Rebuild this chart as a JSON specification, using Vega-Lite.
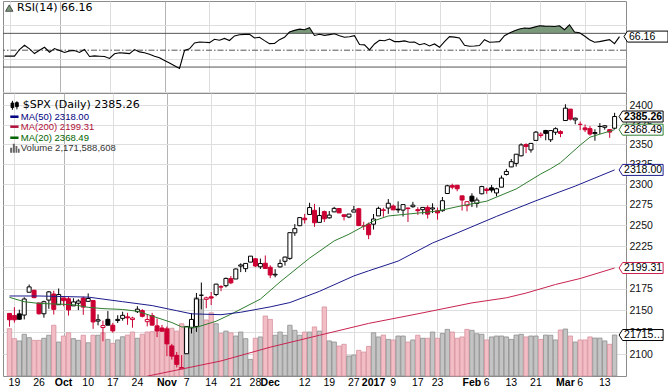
{
"$schema": "https://vega.github.io/schema/vega-lite/v6.json",
"padding": {"left": 1, "top": 0, "right": 0, "bottom": 0},
"spacing": 0,
"bounds": "flush",
"background": "white",
"config": {
  "view": {"stroke": "#8c8c8c"},
  "axis": {"labelFont": "Liberation Sans", "labelFontSize": 10.5, "labelColor": "#111111", "gridColor": "#dedede", "domain": false, "ticks": false, "labelOverlap": false, "labelFlush": false, "labelBound": false}
},
"datasets": {
"xl": [
{"i":1,"lab":"19","m":0},{"i":6,"lab":"26","m":0},{"i":11,"lab":"Oct","m":1},{"i":16,"lab":"10","m":0},{"i":21,"lab":"17","m":0},{"i":26,"lab":"24","m":0},{"i":32,"lab":"Nov","m":1},{"i":36,"lab":"7","m":0},{"i":41,"lab":"14","m":0},{"i":46,"lab":"21","m":0},{"i":50,"lab":"28","m":0},{"i":53,"lab":"Dec","m":1},{"i":60,"lab":"12","m":0},{"i":65,"lab":"19","m":0},{"i":70,"lab":"27","m":0},{"i":74,"lab":"2017","m":1},{"i":78,"lab":"9","m":0},{"i":83,"lab":"17","m":0},{"i":87,"lab":"23","m":0},{"i":94,"lab":"Feb","m":1},{"i":97,"lab":"6","m":0},{"i":102,"lab":"13","m":0},{"i":107,"lab":"21","m":0},{"i":113,"lab":"Mar","m":1},{"i":116,"lab":"6","m":0},{"i":121,"lab":"13","m":0}
],
"px": [
{"i":0,"o":2146.48,"h":2146.48,"l":2131.20,"c":2139.16,"v":2.51,"chg":"dn","rsi":43},
{"i":1,"o":2143.99,"h":2153.61,"l":2135.91,"c":2139.12,"v":1.98,"chg":"dn","rsi":43},
{"i":2,"o":2145.94,"h":2150.80,"l":2139.17,"c":2139.76,"v":1.86,"chg":"up","rsi":43},
{"i":3,"o":2144.58,"h":2165.11,"l":2139.57,"c":2163.12,"v":2.21,"chg":"up","rsi":50.8},
{"i":4,"o":2170.94,"h":2179.99,"l":2170.94,"c":2177.18,"v":2.03,"chg":"up","rsi":55.9},
{"i":5,"o":2173.29,"h":2173.75,"l":2163.97,"c":2164.69,"v":1.89,"chg":"dn","rsi":51.6},
{"i":6,"o":2158.54,"h":2158.54,"l":2145.04,"c":2146.10,"v":1.89,"chg":"dn","rsi":46},
{"i":7,"o":2146.04,"h":2161.13,"l":2141.55,"c":2159.93,"v":2.00,"chg":"up","rsi":50},
{"i":8,"o":2161.85,"h":2172.40,"l":2151.79,"c":2171.37,"v":2.16,"chg":"up","rsi":53.5},
{"i":9,"o":2168.90,"h":2172.67,"l":2145.20,"c":2151.13,"v":2.69,"chg":"dn","rsi":47.6},
{"i":10,"o":2156.51,"h":2175.30,"l":2156.51,"c":2168.27,"v":1.80,"chg":"up","rsi":52},
{"i":11,"o":2164.33,"h":2164.41,"l":2154.77,"c":2161.20,"v":2.12,"chg":"dn","rsi":49.6},
{"i":12,"o":2163.37,"h":2165.46,"l":2144.01,"c":2150.49,"v":2.29,"chg":"dn","rsi":47.3},
{"i":13,"o":2155.15,"h":2163.95,"l":2155.15,"c":2159.73,"v":1.98,"chg":"up","rsi":49.2},
{"i":14,"o":2158.22,"h":2162.93,"l":2150.28,"c":2160.77,"v":1.89,"chg":"up","rsi":49.6},
{"i":15,"o":2164.19,"h":2165.86,"l":2144.85,"c":2153.74,"v":2.16,"chg":"dn","rsi":47.3},
{"i":16,"o":2160.39,"h":2169.60,"l":2160.39,"c":2163.66,"v":1.76,"chg":"up","rsi":50.8},
{"i":17,"o":2161.35,"h":2161.56,"l":2128.84,"c":2136.73,"v":2.16,"chg":"dn","rsi":42.5},
{"i":18,"o":2137.67,"h":2145.36,"l":2132.77,"c":2139.18,"v":2.16,"chg":"up","rsi":43.3},
{"i":19,"o":2130.26,"h":2138.19,"l":2114.72,"c":2132.55,"v":2.29,"chg":"dn","rsi":42.9},
{"i":20,"o":2139.68,"h":2149.19,"l":2132.98,"c":2132.98,"v":1.94,"chg":"up","rsi":42.5},
{"i":21,"o":2132.95,"h":2135.61,"l":2124.43,"c":2126.50,"v":1.73,"chg":"dn","rsi":40.2},
{"i":22,"o":2138.31,"h":2144.38,"l":2135.49,"c":2139.60,"v":1.91,"chg":"up","rsi":45.7},
{"i":23,"o":2140.81,"h":2148.44,"l":2138.15,"c":2144.29,"v":2.08,"chg":"up","rsi":46.9},
{"i":24,"o":2142.51,"h":2147.18,"l":2133.44,"c":2141.34,"v":2.17,"chg":"dn","rsi":46.5},
{"i":25,"o":2139.43,"h":2142.63,"l":2130.09,"c":2141.16,"v":2.33,"chg":"dn","rsi":46},
{"i":26,"o":2148.50,"h":2154.79,"l":2146.91,"c":2151.33,"v":2.00,"chg":"up","rsi":50.8},
{"i":27,"o":2149.72,"h":2151.44,"l":2141.93,"c":2143.16,"v":2.21,"chg":"dn","rsi":48},
{"i":28,"o":2136.97,"h":2145.73,"l":2131.59,"c":2139.43,"v":2.33,"chg":"dn","rsi":46.9},
{"i":29,"o":2144.06,"h":2147.13,"l":2132.52,"c":2133.04,"v":2.35,"chg":"dn","rsi":45.3},
{"i":30,"o":2132.23,"h":2140.72,"l":2119.36,"c":2126.41,"v":2.47,"chg":"dn","rsi":42.9},
{"i":31,"o":2129.78,"h":2133.25,"l":2125.53,"c":2126.15,"v":2.42,"chg":"dn","rsi":41},
{"i":32,"o":2128.68,"h":2131.45,"l":2097.85,"c":2111.72,"v":2.53,"chg":"dn","rsi":37.8},
{"i":33,"o":2109.43,"h":2111.76,"l":2094.00,"c":2097.94,"v":2.53,"chg":"dn","rsi":34.7},
{"i":34,"o":2098.80,"h":2102.56,"l":2085.23,"c":2088.66,"v":2.38,"chg":"dn","rsi":31.6},
{"i":35,"o":2083.79,"h":2099.07,"l":2083.79,"c":2085.18,"v":2.77,"chg":"dn","rsi":28.4},
{"i":36,"o":2100.59,"h":2132.00,"l":2100.59,"c":2131.52,"v":2.53,"chg":"up","rsi":49.6},
{"i":37,"o":2129.92,"h":2146.87,"l":2123.56,"c":2139.56,"v":2.74,"chg":"up","rsi":51.6},
{"i":38,"o":2131.56,"h":2170.10,"l":2125.35,"c":2163.26,"v":4.15,"chg":"up","rsi":58.6},
{"i":39,"o":2167.49,"h":2182.30,"l":2151.17,"c":2167.48,"v":4.06,"chg":"up","rsi":59.8},
{"i":40,"o":2162.71,"h":2165.92,"l":2152.49,"c":2164.45,"v":2.97,"chg":"dn","rsi":59.4},
{"i":41,"o":2165.64,"h":2171.36,"l":2156.08,"c":2164.20,"v":3.35,"chg":"dn","rsi":59},
{"i":42,"o":2168.29,"h":2180.84,"l":2166.38,"c":2180.39,"v":2.77,"chg":"up","rsi":62.9},
{"i":43,"o":2177.53,"h":2179.22,"l":2172.20,"c":2176.94,"v":2.26,"chg":"dn","rsi":61.8},
{"i":44,"o":2178.61,"h":2188.06,"l":2176.65,"c":2187.12,"v":2.38,"chg":"up","rsi":64},
{"i":45,"o":2186.85,"h":2189.89,"l":2180.38,"c":2181.90,"v":2.29,"chg":"dn","rsi":61.5},
{"i":46,"o":2186.43,"h":2198.70,"l":2186.43,"c":2198.18,"v":2.12,"chg":"up","rsi":66.9},
{"i":47,"o":2201.56,"h":2204.80,"l":2194.51,"c":2202.94,"v":2.33,"chg":"up","rsi":68.4},
{"i":48,"o":2198.55,"h":2204.72,"l":2194.51,"c":2204.72,"v":1.98,"chg":"up","rsi":68.8},
{"i":49,"o":2206.27,"h":2213.35,"l":2206.27,"c":2213.35,"v":0.88,"chg":"up","rsi":69},
{"i":50,"o":2210.21,"h":2211.14,"l":2200.36,"c":2201.72,"v":2.00,"chg":"dn","rsi":64.5},
{"i":51,"o":2200.76,"h":2210.46,"l":2198.15,"c":2204.66,"v":2.07,"chg":"up","rsi":65.3},
{"i":52,"o":2204.97,"h":2214.10,"l":2198.81,"c":2198.81,"v":3.18,"chg":"dn","rsi":61.4},
{"i":53,"o":2200.17,"h":2202.60,"l":2187.44,"c":2191.08,"v":3.00,"chg":"dn","rsi":57.8},
{"i":54,"o":2191.12,"h":2197.95,"l":2188.37,"c":2191.95,"v":2.16,"chg":"up","rsi":58},
{"i":55,"o":2200.65,"h":2209.42,"l":2199.97,"c":2204.71,"v":2.33,"chg":"up","rsi":62.5},
{"i":56,"o":2207.26,"h":2212.78,"l":2202.21,"c":2212.23,"v":2.16,"chg":"up","rsi":65.3},
{"i":57,"o":2210.72,"h":2241.63,"l":2208.93,"c":2241.35,"v":2.69,"chg":"up","rsi":71.6},
{"i":58,"o":2241.13,"h":2251.69,"l":2237.57,"c":2246.19,"v":2.42,"chg":"up","rsi":73.5},
{"i":59,"o":2249.73,"h":2259.80,"l":2249.23,"c":2259.53,"v":2.16,"chg":"up","rsi":75},
{"i":60,"o":2258.83,"h":2264.03,"l":2252.37,"c":2256.96,"v":2.33,"chg":"dn","rsi":74.3},
{"i":61,"o":2263.32,"h":2277.53,"l":2263.32,"c":2271.72,"v":2.33,"chg":"up","rsi":76.7},
{"i":62,"o":2268.35,"h":2276.20,"l":2248.44,"c":2253.28,"v":2.60,"chg":"dn","rsi":67.5},
{"i":63,"o":2253.77,"h":2272.12,"l":2253.77,"c":2262.03,"v":2.38,"chg":"up","rsi":69},
{"i":64,"o":2266.81,"h":2268.05,"l":2254.24,"c":2258.07,"v":3.66,"chg":"dn","rsi":67.6},
{"i":65,"o":2259.24,"h":2267.47,"l":2258.21,"c":2262.53,"v":1.86,"chg":"up","rsi":68.5},
{"i":66,"o":2266.50,"h":2272.56,"l":2266.14,"c":2270.76,"v":1.80,"chg":"up","rsi":69.5},
{"i":67,"o":2270.54,"h":2271.23,"l":2265.15,"c":2265.18,"v":1.59,"chg":"dn","rsi":67.2},
{"i":68,"o":2262.93,"h":2263.18,"l":2256.08,"c":2260.96,"v":1.68,"chg":"dn","rsi":65.3},
{"i":69,"o":2260.25,"h":2263.79,"l":2258.84,"c":2263.79,"v":1.06,"chg":"up","rsi":66},
{"i":70,"o":2266.23,"h":2273.82,"l":2266.15,"c":2268.88,"v":1.11,"chg":"up","rsi":67.2},
{"i":71,"o":2270.23,"h":2271.31,"l":2249.11,"c":2249.92,"v":1.36,"chg":"dn","rsi":56.7},
{"i":72,"o":2249.50,"h":2254.51,"l":2244.56,"c":2249.26,"v":1.27,"chg":"dn","rsi":56.3},
{"i":73,"o":2251.61,"h":2253.58,"l":2233.62,"c":2238.83,"v":1.57,"chg":"dn","rsi":50.4},
{"i":74,"o":2251.57,"h":2263.88,"l":2245.13,"c":2257.83,"v":2.29,"chg":"up","rsi":57.4},
{"i":75,"o":2261.60,"h":2272.82,"l":2261.60,"c":2270.75,"v":2.07,"chg":"up","rsi":61.8},
{"i":76,"o":2268.18,"h":2271.50,"l":2260.45,"c":2269.00,"v":2.17,"chg":"dn","rsi":61.3},
{"i":77,"o":2271.14,"h":2282.10,"l":2264.06,"c":2276.98,"v":1.94,"chg":"up","rsi":63.3},
{"i":78,"o":2273.59,"h":2275.49,"l":2268.90,"c":2268.90,"v":1.91,"chg":"dn","rsi":60.2},
{"i":79,"o":2269.72,"h":2279.27,"l":2265.27,"c":2268.90,"v":2.12,"chg":"up","rsi":60.2},
{"i":80,"o":2268.60,"h":2275.32,"l":2260.83,"c":2275.32,"v":2.12,"chg":"up","rsi":61},
{"i":81,"o":2271.14,"h":2271.78,"l":2254.25,"c":2270.44,"v":1.80,"chg":"dn","rsi":59.4},
{"i":82,"o":2272.74,"h":2278.68,"l":2271.51,"c":2274.64,"v":1.91,"chg":"up","rsi":59.8},
{"i":83,"o":2269.14,"h":2272.08,"l":2262.81,"c":2267.89,"v":2.16,"chg":"dn","rsi":56.5},
{"i":84,"o":2269.14,"h":2272.01,"l":2263.35,"c":2271.89,"v":2.00,"chg":"up","rsi":58},
{"i":85,"o":2271.90,"h":2274.33,"l":2258.41,"c":2263.69,"v":2.00,"chg":"dn","rsi":55.1},
{"i":86,"o":2269.96,"h":2276.96,"l":2265.01,"c":2271.31,"v":2.33,"chg":"up","rsi":57.4},
{"i":87,"o":2267.78,"h":2271.78,"l":2257.02,"c":2265.20,"v":2.00,"chg":"dn","rsi":53.5},
{"i":88,"o":2267.88,"h":2284.63,"l":2266.68,"c":2280.07,"v":2.25,"chg":"up","rsi":60.2},
{"i":89,"o":2288.88,"h":2299.55,"l":2288.88,"c":2298.37,"v":2.47,"chg":"up","rsi":66.1},
{"i":90,"o":2298.63,"h":2300.99,"l":2294.08,"c":2296.68,"v":2.33,"chg":"dn","rsi":65.5},
{"i":91,"o":2299.02,"h":2299.02,"l":2291.62,"c":2294.69,"v":2.00,"chg":"dn","rsi":64.5},
{"i":92,"o":2286.01,"h":2286.01,"l":2268.04,"c":2280.90,"v":2.07,"chg":"dn","rsi":55.9},
{"i":93,"o":2274.02,"h":2279.09,"l":2267.21,"c":2278.87,"v":2.47,"chg":"dn","rsi":54.7},
{"i":94,"o":2285.59,"h":2289.14,"l":2272.44,"c":2279.55,"v":2.42,"chg":"up","rsi":55},
{"i":95,"o":2276.69,"h":2283.97,"l":2271.65,"c":2280.85,"v":2.24,"chg":"up","rsi":55.5},
{"i":96,"o":2288.54,"h":2298.31,"l":2287.88,"c":2297.42,"v":2.21,"chg":"up","rsi":62.5},
{"i":97,"o":2294.28,"h":2296.18,"l":2288.57,"c":2292.56,"v":1.91,"chg":"dn","rsi":59.4},
{"i":98,"o":2295.87,"h":2299.40,"l":2290.16,"c":2293.08,"v":2.07,"chg":"up","rsi":59.8},
{"i":99,"o":2289.55,"h":2295.91,"l":2285.38,"c":2294.67,"v":2.12,"chg":"up","rsi":60.2},
{"i":100,"o":2296.70,"h":2311.08,"l":2296.61,"c":2307.87,"v":2.12,"chg":"up","rsi":67.2},
{"i":101,"o":2312.27,"h":2319.23,"l":2311.10,"c":2316.10,"v":2.07,"chg":"up","rsi":70.4},
{"i":102,"o":2321.72,"h":2331.58,"l":2321.42,"c":2328.25,"v":1.94,"chg":"up","rsi":73.1},
{"i":103,"o":2326.12,"h":2337.58,"l":2322.17,"c":2337.58,"v":2.17,"chg":"up","rsi":75.1},
{"i":104,"o":2335.58,"h":2351.30,"l":2334.81,"c":2349.25,"v":2.21,"chg":"up","rsi":76.3},
{"i":105,"o":2349.64,"h":2351.31,"l":2338.87,"c":2347.22,"v":2.07,"chg":"dn","rsi":75.9},
{"i":106,"o":2343.01,"h":2351.16,"l":2339.58,"c":2351.16,"v":2.12,"chg":"up","rsi":77.4},
{"i":107,"o":2354.91,"h":2366.71,"l":2354.91,"c":2365.38,"v":2.12,"chg":"up","rsi":79},
{"i":108,"o":2361.11,"h":2365.13,"l":2358.34,"c":2362.82,"v":1.94,"chg":"dn","rsi":78.6},
{"i":109,"o":2367.50,"h":2368.26,"l":2355.09,"c":2363.81,"v":2.17,"chg":"up","rsi":78.4},
{"i":110,"o":2355.73,"h":2367.34,"l":2352.87,"c":2367.34,"v":2.16,"chg":"up","rsi":78.2},
{"i":111,"o":2365.23,"h":2371.54,"l":2361.87,"c":2369.75,"v":1.91,"chg":"up","rsi":79},
{"i":112,"o":2366.08,"h":2367.79,"l":2358.96,"c":2363.64,"v":2.44,"chg":"dn","rsi":74.3},
{"i":113,"o":2380.13,"h":2400.98,"l":2380.13,"c":2395.96,"v":2.49,"chg":"up","rsi":80.2},
{"i":114,"o":2394.75,"h":2394.75,"l":2380.17,"c":2381.92,"v":2.12,"chg":"dn","rsi":71.6},
{"i":115,"o":2380.92,"h":2383.89,"l":2375.39,"c":2383.12,"v":1.80,"chg":"up","rsi":70.8},
{"i":116,"o":2375.23,"h":2378.80,"l":2367.98,"c":2375.31,"v":1.91,"chg":"dn","rsi":66.9},
{"i":117,"o":2370.74,"h":2375.12,"l":2365.51,"c":2368.39,"v":1.91,"chg":"dn","rsi":62.5},
{"i":118,"o":2369.81,"h":2373.09,"l":2361.01,"c":2362.98,"v":2.07,"chg":"dn","rsi":59.4},
{"i":119,"o":2363.49,"h":2369.08,"l":2354.54,"c":2364.87,"v":2.01,"chg":"up","rsi":60.2},
{"i":120,"o":2372.52,"h":2376.86,"l":2363.04,"c":2372.60,"v":2.01,"chg":"up","rsi":61.4},
{"i":121,"o":2371.56,"h":2374.42,"l":2368.54,"c":2373.47,"v":1.86,"chg":"up","rsi":62.5},
{"i":122,"o":2368.55,"h":2368.55,"l":2358.18,"c":2365.45,"v":1.68,"chg":"dn","rsi":57.8},
{"i":123,"o":2370.34,"h":2390.01,"l":2368.94,"c":2385.26,"v":2.1716,"chg":"up","rsi":66.16}
],
"rsiFill": [
{"seg":"a","i":56.75,"r":70},{"seg":"a","i":57,"r":71.6},{"seg":"a","i":58,"r":73.5},{"seg":"a","i":59,"r":75},{"seg":"a","i":60,"r":74.3},{"seg":"a","i":61,"r":76.7},{"seg":"a","i":61.73,"r":70},
{"seg":"b","i":100.88,"r":70},{"seg":"b","i":101,"r":70.4},{"seg":"b","i":102,"r":73.1},{"seg":"b","i":103,"r":75.1},{"seg":"b","i":104,"r":76.3},{"seg":"b","i":105,"r":75.9},{"seg":"b","i":106,"r":77.4},{"seg":"b","i":107,"r":79},{"seg":"b","i":108,"r":78.6},{"seg":"b","i":109,"r":78.4},{"seg":"b","i":110,"r":78.2},{"seg":"b","i":111,"r":79},{"seg":"b","i":112,"r":74.3},{"seg":"b","i":113,"r":80.2},{"seg":"b","i":114,"r":71.6},{"seg":"b","i":115,"r":70.8},{"seg":"b","i":115.2,"r":70}
],
"ma": [
{"k":"ma20","i":0,"v":2165},{"k":"ma20","i":3,"v":2160},{"k":"ma20","i":6,"v":2158},{"k":"ma20","i":13,"v":2156.5},{"k":"ma20","i":16,"v":2153.5},{"k":"ma20","i":19,"v":2152},{"k":"ma20","i":23,"v":2151},{"k":"ma20","i":26,"v":2149},{"k":"ma20","i":29,"v":2143.5},{"k":"ma20","i":33,"v":2136},{"k":"ma20","i":35,"v":2131},{"k":"ma20","i":38,"v":2130.5},{"k":"ma20","i":42,"v":2137.5},{"k":"ma20","i":45,"v":2145.5},{"k":"ma20","i":51,"v":2163},{"k":"ma20","i":55,"v":2183},{"k":"ma20","i":61,"v":2211},{"k":"ma20","i":66,"v":2231.5},{"k":"ma20","i":69,"v":2239.5},{"k":"ma20","i":74,"v":2255.5},{"k":"ma20","i":77,"v":2261.5},{"k":"ma20","i":83,"v":2265},{"k":"ma20","i":87,"v":2267.5},{"k":"ma20","i":92,"v":2274},{"k":"ma20","i":97,"v":2279.5},{"k":"ma20","i":103,"v":2294.5},{"k":"ma20","i":108,"v":2313},{"k":"ma20","i":110,"v":2319.5},{"k":"ma20","i":112,"v":2327},{"k":"ma20","i":116,"v":2349},{"k":"ma20","i":118,"v":2359},{"k":"ma20","i":123,"v":2368.49},
{"k":"ma50","i":0,"v":2166.6},{"k":"ma50","i":6,"v":2166.6},{"k":"ma50","i":16,"v":2165.3},{"k":"ma50","i":23,"v":2160},{"k":"ma50","i":29,"v":2155.5},{"k":"ma50","i":34,"v":2149.6},{"k":"ma50","i":37,"v":2146},{"k":"ma50","i":43,"v":2145},{"k":"ma50","i":47,"v":2147.8},{"k":"ma50","i":53,"v":2154},{"k":"ma50","i":57,"v":2159},{"k":"ma50","i":63,"v":2172},{"k":"ma50","i":70,"v":2190},{"k":"ma50","i":73,"v":2196},{"k":"ma50","i":79,"v":2207.5},{"k":"ma50","i":86,"v":2229},{"k":"ma50","i":91,"v":2241},{"k":"ma50","i":99,"v":2261},{"k":"ma50","i":107,"v":2280},{"k":"ma50","i":115,"v":2298},{"k":"ma50","i":123,"v":2318.00},
{"k":"ma200","i":28,"v":2075.5},{"k":"ma200","i":43,"v":2092.5},{"k":"ma200","i":53,"v":2108},{"k":"ma200","i":63,"v":2121.5},{"k":"ma200","i":73,"v":2135},{"k":"ma200","i":83,"v":2146},{"k":"ma200","i":94,"v":2158.6},{"k":"ma200","i":101,"v":2164.5},{"k":"ma200","i":105,"v":2170},{"k":"ma200","i":111,"v":2180},{"k":"ma200","i":116,"v":2187},{"k":"ma200","i":123,"v":2199.31}
]
},
"vconcat": [
{
"width": 623, "height": 92,
"layer": [
{"data": {"name": "rsiFill"}, "mark": {"type": "area", "color": "#7a997a", "opacity": 1},
 "encoding": {
  "x": {"field": "i", "type": "quantitative", "scale": {"domain": [-0.3, 124.3], "nice": false, "zero": false},
        "axis": {"values": [1,6,11,16,21,26,32,36,41,46,50,53,60,65,70,74,78,83,87,94,97,102,107,113,116,121], "labels": false, "grid": true, "title": null, "minExtent": 0, "maxExtent": 0, "labelPadding": 0,
                 "gridColor": {"condition": {"test": "indexof([11,32,53,74,94,113], datum.value) >= 0", "value": "#b4b4b4"}, "value": "#dedede"}}},
  "y": {"field": "r", "type": "quantitative", "scale": {"domain": [-0.8, 108.4], "nice": false, "zero": false},
        "axis": {"orient": "right", "values": [0,10,20,30,40,50,60,70,80,90,100], "labelExpr": "datum.value % 20 == 10 ? datum.label : ''", "grid": true, "title": null, "labelPadding": 3, "labelOverlap": false}},
  "y2": {"datum": 70},
  "detail": {"field": "seg", "type": "nominal"}
 }},
{"data": {"values": [{"lvl": 30}, {"lvl": 70}]}, "mark": {"type": "rule", "color": "#555555", "strokeWidth": 1},
 "encoding": {"y": {"field": "lvl", "type": "quantitative", "scale": {"domain": [-0.8, 108.4], "nice": false, "zero": false}}}},
{"data": {"values": [{"lvl": 50}]}, "mark": {"type": "rule", "color": "#555555", "strokeWidth": 1, "strokeDash": [6, 2, 1.5, 2]},
 "encoding": {"y": {"field": "lvl", "type": "quantitative", "scale": {"domain": [-0.8, 108.4], "nice": false, "zero": false}}}},
{"data": {"name": "px"}, "mark": {"type": "line", "color": "#000000", "strokeWidth": 1.1},
 "encoding": {
  "x": {"field": "i", "type": "quantitative", "scale": {"domain": [-0.3, 124.3], "nice": false, "zero": false}},
  "y": {"field": "rsi", "type": "quantitative", "scale": {"domain": [-0.8, 108.4], "nice": false, "zero": false}}
 }},
{"data": {"values": [{}]}, "mark": {"type": "point", "shape": "triangle-up", "size": 55, "filled": true, "fill": "#7a997a", "stroke": "#333333", "strokeWidth": 0.8, "opacity": 1},
 "encoding": {
  "x": {"datum": 0.95, "type": "quantitative", "scale": {"domain": [-0.3, 124.3], "nice": false, "zero": false}},
  "y": {"datum": 100.0, "type": "quantitative", "scale": {"domain": [-0.8, 108.4], "nice": false, "zero": false}}
 }},
{"data": {"values": [{}]}, "mark": {"type": "text", "align": "left", "baseline": "middle", "font": "DejaVu Sans", "fontSize": 11, "color": "#000000"},
 "encoding": {
  "x": {"datum": 2.5, "type": "quantitative", "scale": {"domain": [-0.3, 124.3], "nice": false, "zero": false}},
  "y": {"datum": 100.4, "type": "quantitative", "scale": {"domain": [-0.8, 108.4], "nice": false, "zero": false}},
  "text": {"value": "RSI(14) 66.16"}
 }},
{"data": {"name": "px"}, "transform": [{"filter": "datum.i == 123"}],
 "mark": {"type": "point", "shape": "M0.09,0L0.16,-0.11L0.97,-0.11L0.97,0.11L0.16,0.11Z", "size": 10000, "filled": true, "fill": "#ffffff", "stroke": "#000000", "strokeWidth": 1, "opacity": 1},
 "encoding": {
  "x": {"field": "i", "type": "quantitative", "scale": {"domain": [-0.3, 124.3], "nice": false, "zero": false}},
  "y": {"field": "rsi", "type": "quantitative", "scale": {"domain": [-0.8, 108.4], "nice": false, "zero": false}}
 }},
{"data": {"name": "px"}, "transform": [{"filter": "datum.i == 123"}],
 "mark": {"type": "text", "align": "left", "baseline": "middle", "dx": 9.5, "font": "Liberation Sans", "fontSize": 10.5, "color": "#000000"},
 "encoding": {
  "x": {"field": "i", "type": "quantitative", "scale": {"domain": [-0.3, 124.3], "nice": false, "zero": false}},
  "y": {"field": "rsi", "type": "quantitative", "scale": {"domain": [-0.8, 108.4], "nice": false, "zero": false}},
  "text": {"field": "rsi", "type": "quantitative", "format": ".2f"}
 }}
]
},
{
"width": 623, "height": 283,
"resolve": {"scale": {"y": "independent", "fill": "independent", "stroke": "independent"}},
"layer": [
{"data": {"name": "px"}, "mark": {"type": "bar", "width": 4.4, "strokeWidth": 0.8},
 "encoding": {
  "x": {"field": "i", "type": "quantitative", "scale": {"domain": [-0.3, 124.3], "nice": false, "zero": false},
        "axis": {"values": [1,6,11,16,21,26,32,36,41,46,50,53,60,65,70,74,78,83,87,94,97,102,107,113,116,121],
                 "labels": false, "grid": true, "title": null, "minExtent": 0, "maxExtent": 0,
                 "gridColor": {"condition": {"test": "indexof([11,32,53,74,94,113], datum.value) >= 0", "value": "#b4b4b4"}, "value": "#dedede"}}},
  "y": {"field": "v", "type": "quantitative", "scale": {"domain": [0, 15], "nice": false, "zero": true}, "axis": null},
  "fill": {"field": "chg", "type": "nominal", "scale": {"domain": ["up", "dn"], "range": ["#c4c4c4", "#f3bdc5"]}, "legend": null},
  "stroke": {"field": "chg", "type": "nominal", "scale": {"domain": ["up", "dn"], "range": ["#8e8e8e", "#d6929e"]}, "legend": null}
 }},
{"data": {"name": "px"}, "mark": {"type": "rule", "strokeWidth": 1},
 "encoding": {
  "x": {"field": "i", "type": "quantitative", "scale": {"domain": [-0.3, 124.3], "nice": false, "zero": false}},
  "y": {"field": "l", "type": "quantitative", "scale": {"type": "log", "domain": [2075.7, 2415.5], "nice": false, "zero": false},
        "axis": {"orient": "right", "values": [2100,2125,2150,2175,2200,2225,2250,2275,2300,2325,2350,2375,2400], "format": "d", "grid": true, "title": null, "labelPadding": 3, "labelOverlap": false}},
  "y2": {"field": "h"},
  "stroke": {"field": "chg", "type": "nominal", "scale": {"domain": ["up", "dn"], "range": ["#000000", "#cc0033"]}, "legend": null}
 }},
{"data": {"name": "px"}, "mark": {"type": "bar", "width": 4, "strokeWidth": 1},
 "encoding": {
  "x": {"field": "i", "type": "quantitative", "scale": {"domain": [-0.3, 124.3], "nice": false, "zero": false}},
  "y": {"field": "o", "type": "quantitative", "scale": {"type": "log", "domain": [2075.7, 2415.5], "nice": false, "zero": false}, "axis": null},
  "y2": {"field": "c"},
  "stroke": {"field": "chg", "type": "nominal", "scale": {"domain": ["up", "dn"], "range": ["#000000", "#cc0033"]}, "legend": null},
  "fill": {"condition": {"test": "datum.c > datum.o", "value": "#ffffff"}, "field": "chg", "type": "nominal", "scale": {"domain": ["up", "dn"], "range": ["#000000", "#cc0033"]}, "legend": null}
 }},
{"data": {"name": "ma"}, "mark": {"type": "line", "strokeWidth": 1, "clip": true},
 "encoding": {
  "x": {"field": "i", "type": "quantitative", "scale": {"domain": [-0.3, 124.3], "nice": false, "zero": false}},
  "y": {"field": "v", "type": "quantitative", "scale": {"type": "log", "domain": [2075.7, 2415.5], "nice": false, "zero": false}, "axis": null},
  "stroke": {"field": "k", "type": "nominal", "scale": {"domain": ["ma20", "ma50", "ma200"], "range": ["#2f7d2f", "#1c1c8c", "#c8234f"]}, "legend": null}
 }},
{"data": {"name": "ma"}, "transform": [{"filter": "datum.i == 123"}],
 "mark": {"type": "point", "shape": "M0.09,0L0.16,-0.11L0.97,-0.11L0.97,0.11L0.16,0.11Z", "size": 10000, "filled": true, "fill": "#ffffff", "strokeWidth": 1, "opacity": 1},
 "encoding": {
  "x": {"field": "i", "type": "quantitative", "scale": {"domain": [-0.3, 124.3], "nice": false, "zero": false}},
  "y": {"field": "v", "type": "quantitative", "scale": {"type": "log", "domain": [2075.7, 2415.5], "nice": false, "zero": false}, "axis": null},
  "stroke": {"field": "k", "type": "nominal", "scale": {"domain": ["ma20", "ma50", "ma200"], "range": ["#2f7d2f", "#1c1c8c", "#c8234f"]}, "legend": null}
 }},
{"data": {"name": "ma"}, "transform": [{"filter": "datum.i == 123"}],
 "mark": {"type": "text", "align": "left", "baseline": "middle", "dx": 9.5, "font": "Liberation Sans", "fontSize": 10.5, "color": "#000000"},
 "encoding": {
  "x": {"field": "i", "type": "quantitative", "scale": {"domain": [-0.3, 124.3], "nice": false, "zero": false}},
  "y": {"field": "v", "type": "quantitative", "scale": {"type": "log", "domain": [2075.7, 2415.5], "nice": false, "zero": false}, "axis": null},
  "text": {"field": "v", "type": "quantitative", "format": ".2f"}
 }},
{"data": {"name": "px"}, "transform": [{"filter": "datum.i == 123"}],
 "mark": {"type": "point", "shape": "M0.09,0L0.16,-0.11L0.97,-0.11L0.97,0.11L0.16,0.11Z", "size": 10000, "filled": true, "fill": "#ffffff", "stroke": "#000000", "strokeWidth": 1, "opacity": 1},
 "encoding": {
  "x": {"field": "i", "type": "quantitative", "scale": {"domain": [-0.3, 124.3], "nice": false, "zero": false}},
  "y": {"field": "c", "type": "quantitative", "scale": {"type": "log", "domain": [2075.7, 2415.5], "nice": false, "zero": false}, "axis": null}
 }},
{"data": {"name": "px"}, "transform": [{"filter": "datum.i == 123"}],
 "mark": {"type": "text", "align": "left", "baseline": "middle", "dx": 9.5, "font": "Liberation Sans", "fontSize": 10.5, "fontWeight": "bold", "color": "#000000"},
 "encoding": {
  "x": {"field": "i", "type": "quantitative", "scale": {"domain": [-0.3, 124.3], "nice": false, "zero": false}},
  "y": {"field": "c", "type": "quantitative", "scale": {"type": "log", "domain": [2075.7, 2415.5], "nice": false, "zero": false}, "axis": null},
  "text": {"field": "c", "type": "quantitative", "format": ".2f"}
 }},
{"data": {"name": "px"}, "transform": [{"filter": "datum.i == 123"}],
 "mark": {"type": "point", "shape": "M0.09,0L0.16,-0.11L0.97,-0.11L0.97,0.11L0.16,0.11Z", "size": 10000, "filled": true, "fill": "#ffffff", "stroke": "#000000", "strokeWidth": 1, "opacity": 1},
 "encoding": {
  "x": {"field": "i", "type": "quantitative", "scale": {"domain": [-0.3, 124.3], "nice": false, "zero": false}},
  "y": {"field": "v", "type": "quantitative", "scale": {"domain": [0, 15], "nice": false, "zero": true}, "axis": null}
 }},
{"data": {"name": "px"}, "transform": [{"filter": "datum.i == 123"}],
 "mark": {"type": "text", "align": "left", "baseline": "middle", "dx": 9.5, "font": "Liberation Sans", "fontSize": 10.5, "color": "#000000", "limit": 41, "ellipsis": ""},
 "encoding": {
  "x": {"field": "i", "type": "quantitative", "scale": {"domain": [-0.3, 124.3], "nice": false, "zero": false}},
  "y": {"field": "v", "type": "quantitative", "scale": {"domain": [0, 15], "nice": false, "zero": true}, "axis": null},
  "text": {"value": "2171588608"}
 }},
{"data": {"name": "xl"}, "transform": [{"filter": "datum.m == 0"}],
 "mark": {"type": "text", "align": "center", "baseline": "middle", "font": "Liberation Sans", "fontSize": 10.5, "color": "#000000"},
 "encoding": {
  "x": {"field": "i", "type": "quantitative", "scale": {"domain": [-0.3, 124.3], "nice": false, "zero": false}},
  "y": {"datum": 2067.6, "type": "quantitative", "scale": {"type": "log", "domain": [2075.7, 2415.5], "nice": false, "zero": false}, "axis": null},
  "text": {"field": "lab", "type": "nominal"}
 }},
{"data": {"name": "xl"}, "transform": [{"filter": "datum.m == 1"}],
 "mark": {"type": "text", "align": "center", "baseline": "middle", "font": "Liberation Sans", "fontSize": 10.5, "fontWeight": "bold", "color": "#000000"},
 "encoding": {
  "x": {"field": "i", "type": "quantitative", "scale": {"domain": [-0.3, 124.3], "nice": false, "zero": false}},
  "y": {"datum": 2067.6, "type": "quantitative", "scale": {"type": "log", "domain": [2075.7, 2415.5], "nice": false, "zero": false}, "axis": null},
  "text": {"field": "lab", "type": "nominal"}
 }},
{"data": {"values": [{}]}, "mark": {"type": "point", "shape": "M-0.55,-1V1M0.45,-0.9V0.9M-0.85,-0.5H-0.25V0.5H-0.85ZM0.15,-0.6H0.75V0.3H0.15Z", "size": 81, "filled": true, "fill": "#000000", "stroke": "#000000", "strokeWidth": 1, "opacity": 1},
 "encoding": {
  "x": {"datum": 1.1, "type": "quantitative", "scale": {"domain": [-0.3, 124.3], "nice": false, "zero": false}},
  "y": {"datum": 2399.6, "type": "quantitative", "scale": {"type": "log", "domain": [2075.7, 2415.5], "nice": false, "zero": false}, "axis": null}
 }},
{"data": {"values": [{}]}, "mark": {"type": "point", "shape": "M-1,1V-0.1H-0.55V1ZM-0.4,1V-1H0.05V1ZM0.2,1V-0.5H0.6V1ZM0.75,1V0.1H1.1V1Z", "size": 81, "filled": true, "fill": "#666666", "strokeWidth": 0, "opacity": 1},
 "encoding": {
  "x": {"datum": 1.05, "type": "quantitative", "scale": {"domain": [-0.3, 124.3], "nice": false, "zero": false}},
  "y": {"datum": 2345.0, "type": "quantitative", "scale": {"type": "log", "domain": [2075.7, 2415.5], "nice": false, "zero": false}, "axis": null}
 }},
{"data": {"values": [{}]}, "mark": {"type": "text", "align": "left", "baseline": "middle", "font": "DejaVu Sans", "fontSize": 11, "color": "#000000"},
 "encoding": {
  "x": {"datum": 2.7, "type": "quantitative", "scale": {"domain": [-0.3, 124.3], "nice": false, "zero": false}},
  "y": {"datum": 2399.6, "type": "quantitative", "scale": {"type": "log", "domain": [2075.7, 2415.5], "nice": false, "zero": false}, "axis": null},
  "text": {"value": "$SPX (Daily) 2385.26"}
 }},
{"data": {"values": [{}]}, "mark": {"type": "text", "align": "left", "baseline": "middle", "font": "Liberation Sans", "fontSize": 9.5, "color": "#000080"},
 "encoding": {
  "x": {"datum": 2.3, "type": "quantitative", "scale": {"domain": [-0.3, 124.3], "nice": false, "zero": false}},
  "y": {"datum": 2385.0, "type": "quantitative", "scale": {"type": "log", "domain": [2075.7, 2415.5], "nice": false, "zero": false}, "axis": null},
  "text": {"value": "MA(50) 2318.00"}
 }},
{"data": {"values": [{}]}, "mark": {"type": "text", "align": "left", "baseline": "middle", "font": "Liberation Sans", "fontSize": 9.5, "color": "#b0103a"},
 "encoding": {
  "x": {"datum": 2.3, "type": "quantitative", "scale": {"domain": [-0.3, 124.3], "nice": false, "zero": false}},
  "y": {"datum": 2372.3, "type": "quantitative", "scale": {"type": "log", "domain": [2075.7, 2415.5], "nice": false, "zero": false}, "axis": null},
  "text": {"value": "MA(200) 2199.31"}
 }},
{"data": {"values": [{}]}, "mark": {"type": "text", "align": "left", "baseline": "middle", "font": "Liberation Sans", "fontSize": 9.5, "color": "#006400"},
 "encoding": {
  "x": {"datum": 2.3, "type": "quantitative", "scale": {"domain": [-0.3, 124.3], "nice": false, "zero": false}},
  "y": {"datum": 2358.3, "type": "quantitative", "scale": {"type": "log", "domain": [2075.7, 2415.5], "nice": false, "zero": false}, "axis": null},
  "text": {"value": "MA(20) 2368.49"}
 }},
{"data": {"values": [{}]}, "mark": {"type": "text", "align": "left", "baseline": "middle", "font": "Liberation Sans", "fontSize": 9.5, "color": "#333333"},
 "encoding": {
  "x": {"datum": 2.3, "type": "quantitative", "scale": {"domain": [-0.3, 124.3], "nice": false, "zero": false}},
  "y": {"datum": 2345.0, "type": "quantitative", "scale": {"type": "log", "domain": [2075.7, 2415.5], "nice": false, "zero": false}, "axis": null},
  "text": {"value": "Volume 2,171,588,608"}
 }},
{"data": {"values": [{"k": "ma50", "p": 2385.0}, {"k": "ma200", "p": 2372.3}, {"k": "ma20", "p": 2358.3}]}, "mark": {"type": "rule", "strokeWidth": 2.5},
 "encoding": {
  "x": {"datum": 0.16, "type": "quantitative", "scale": {"domain": [-0.3, 124.3], "nice": false, "zero": false}},
  "x2": {"datum": 1.84},
  "y": {"field": "p", "type": "quantitative", "scale": {"type": "log", "domain": [2075.7, 2415.5], "nice": false, "zero": false}, "axis": null},
  "stroke": {"field": "k", "type": "nominal", "scale": {"domain": ["ma20", "ma50", "ma200"], "range": ["#006400", "#000080", "#b0103a"]}, "legend": null}
 }}
]
}
]
}
